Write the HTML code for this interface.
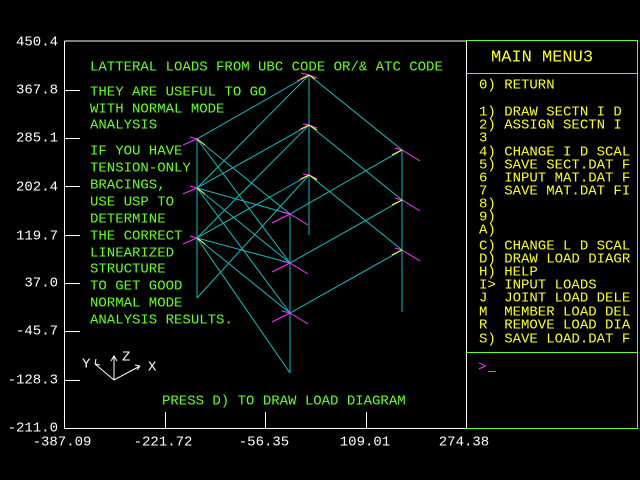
<!DOCTYPE html>
<html><head><meta charset="utf-8"><style>
html,body{margin:0;padding:0;background:#000;width:640px;height:480px;overflow:hidden}
svg{display:block}
text{font-family:"Liberation Mono",monospace;font-size:14px;dominant-baseline:middle;white-space:pre}
.w{fill:#fff}.g{fill:#66ff22}.y{fill:#ffff22}
</style></head><body>
<svg width="640" height="480" viewBox="0 0 640 480" xml:space="preserve">
<rect width="640" height="480" fill="#000"/>
<g stroke="#fff" stroke-width="1" fill="none">
<path d="M64.5 41 V428.5 H466.5 V41 H64.5"/>
<path d="M64 90.5h16M64 138.5h16M64 186.5h16M64 235.5h16M64 283.5h16M64 331.5h16M64 380.5h16"/>
<path d="M165.5 428V412M265.5 428V412M366.5 428V412"/>
</g>
<g class="w" text-anchor="end">
<text x="58" y="42">450.4</text>
<text x="58" y="90">367.8</text>
<text x="58" y="138">285.1</text>
<text x="58" y="187">202.4</text>
<text x="58" y="236">119.7</text>
<text x="58" y="283">37.0</text>
<text x="58" y="331">-45.7</text>
<text x="58" y="380">-128.3</text>
<text x="58" y="428">-211.0</text>
</g>
<g class="w" text-anchor="middle">
<text x="62" y="442">-387.09</text>
<text x="163" y="442">-221.72</text>
<text x="264" y="442">-56.35</text>
<text x="365" y="442">109.01</text>
<text x="464" y="442">274.38</text>
</g>
<g stroke="#66ff22" fill="none">
<path d="M466 40.5H637.5V428.5H466"/>
<path d="M466 73.5H637M466 352.5H637"/>
</g>
<text x="491" y="57" class="y" style="font-size:17px">MAIN MENU3</text>
<g class="y">
<text x="479" y="85">0) RETURN</text>
<text x="479" y="112">1) DRAW SECTN I D</text>
<text x="479" y="125">2) ASSIGN SECTN I</text>
<text x="479" y="138">3</text>
<text x="479" y="152">4) CHANGE I D SCAL</text>
<text x="479" y="165">5) SAVE SECT.DAT F</text>
<text x="479" y="178">6  INPUT MAT.DAT F</text>
<text x="479" y="191">7  SAVE MAT.DAT FI</text>
<text x="479" y="204">8)</text>
<text x="479" y="217">9)</text>
<text x="479" y="230">A)</text>
<text x="479" y="246">C) CHANGE L D SCAL</text>
<text x="479" y="259">D) DRAW LOAD DIAGR</text>
<text x="479" y="272">H) HELP</text>
<text x="479" y="285">I&gt; INPUT LOADS</text>
<text x="479" y="298">J  JOINT LOAD DELE</text>
<text x="479" y="312">M  MEMBER LOAD DEL</text>
<text x="479" y="325">R  REMOVE LOAD DIA</text>
<text x="479" y="339">S) SAVE LOAD.DAT F</text>
</g>
<text x="478" y="367" fill="#ff33ff">&gt;</text>
<path d="M488 371.5h8" stroke="#11bbbb"/>
<g class="g">
<text x="90" y="67">LATTERAL LOADS FROM UBC CODE OR/&amp; ATC CODE</text>
<text x="90" y="92">THEY ARE USEFUL TO GO</text>
<text x="90" y="109">WITH NORMAL MODE</text>
<text x="90" y="125">ANALYSIS</text>
<text x="90" y="151">IF YOU HAVE</text>
<text x="90" y="168">TENSION-ONLY</text>
<text x="90" y="185">BRACINGS,</text>
<text x="90" y="202">USE USP TO</text>
<text x="90" y="219">DETERMINE</text>
<text x="90" y="236">THE CORRECT</text>
<text x="90" y="253">LINEARIZED</text>
<text x="90" y="269">STRUCTURE</text>
<text x="90" y="286">TO GET GOOD</text>
<text x="90" y="303">NORMAL MODE</text>
<text x="90" y="320">ANALYSIS RESULTS.</text>
<text x="162" y="401">PRESS D) TO DRAW LOAD DIAGRAM</text>
</g>
<g stroke="#fff" fill="none">
<path d="M114 380L114 357M114 380L95 364M114 380L140 366"/>
<path d="M111 361l3-5l3 5M95 364l1-5M95 364l5 1M140 366l-5-1M140 366l-3 4"/>
</g>
<g class="w"><text x="82" y="364">Y</text><text x="122" y="357">Z</text><text x="148" y="367">X</text></g>
<g stroke="#11bbbb" stroke-width="1" fill="none">
<path d="M309 75V235M197 139V298M290 214V373M402 150V312"/>
<path d="M309 75L197 139L290 214L402 150Z"/>
<path d="M309 125L197 188L290 263L402 200Z"/>
<path d="M309 175L197 238L290 313L402 250Z"/>
<path d="M309 75L197 188M309 125L197 238M309 175L197 298"/>
<path d="M197 139L290 263M197 188L290 313M197 238L290 373"/>
<path d="M197 188L290 214M197 238L290 263"/>
</g>
<g stroke="#ff33ff" stroke-width="1" fill="none">
<path d="M301 73l8 2l-12 6M309 75l8 3M303 124l6 1l-10 5M309 125l8 3M303 174l6 1l-10 5M309 175l8 4"/>
<path d="M190 137l7 2l-14 6M197 139l4 3M190 186l7 2l-14 6M197 188l4 3M190 236l7 2l-14 6M197 238l4 3"/>
<path d="M282 212l8 2l-18 9M290 214l18 11M282 261l8 2l-18 9M290 263l18 11M282 311l8 2l-18 9M290 313l18 11"/>
<path d="M395 148l7 2l18 11M395 198l7 2l18 11M395 248l7 2l18 11"/>
</g>
<g stroke="#ffff22" stroke-width="1">
<path d="M197 139l8 6M197 188l8 6M197 238l8 6M309 75l-8 4M309 125l-8 4M309 175l-8 4M309 75l6 4M309 125l8 5M309 175l8 5M402 150l-10 5M402 200l-10 5M402 250l-10 5"/>
</g>
</svg>
</body></html>
